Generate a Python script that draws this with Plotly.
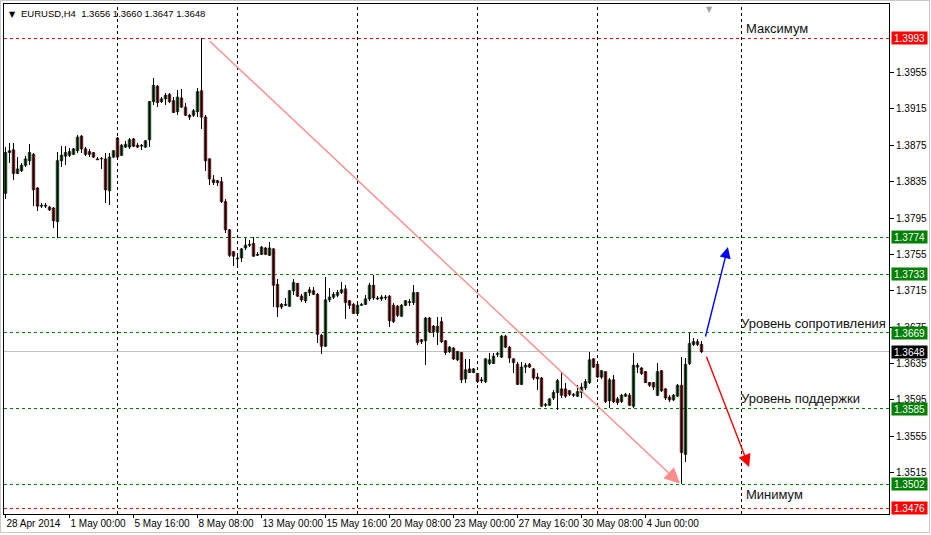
import plotly.graph_objects as go

# ---------------- data (EURUSD, H4) ----------------
opens = [
    1.3822, 1.3867, 1.3870, 1.3844, 1.3847, 1.3853, 1.3858, 1.3865, 1.3828, 1.3808,
    1.3809, 1.3807, 1.3806, 1.3791, 1.3858, 1.3863, 1.3864, 1.3865, 1.3869, 1.3885,
    1.3871, 1.3868, 1.3867, 1.3860, 1.3860, 1.3860, 1.3825, 1.3862, 1.3883, 1.3864,
    1.3873, 1.3873, 1.3882, 1.3875, 1.3874, 1.3873, 1.3881, 1.3923, 1.3940, 1.3923,
    1.3926, 1.3931, 1.3924, 1.3912, 1.3927, 1.3917, 1.3908, 1.3908, 1.3912, 1.3935,
    1.3906, 1.3860, 1.3837, 1.3836, 1.3835, 1.3813, 1.3782, 1.3758, 1.3751, 1.3751,
    1.3762, 1.3765, 1.3767, 1.3755, 1.3755, 1.3762, 1.3754, 1.3761, 1.3722, 1.3697,
    1.3699, 1.3698, 1.3715, 1.3723, 1.3709, 1.3704, 1.3713, 1.3715, 1.3711, 1.3666,
    1.3654, 1.3705, 1.3708, 1.3710, 1.3713, 1.3717, 1.3704, 1.3700, 1.3690, 1.3699,
    1.3700, 1.3706, 1.3721, 1.3707, 1.3706, 1.3707, 1.3709, 1.3699, 1.3698, 1.3687,
    1.3699, 1.3702, 1.3702, 1.3713, 1.3661, 1.3660, 1.3685, 1.3676, 1.3670, 1.3681,
    1.3660, 1.3648, 1.3652, 1.3639, 1.3647, 1.3618, 1.3629, 1.3625, 1.3624, 1.3617,
    1.3615, 1.3635, 1.3635, 1.3645, 1.3642, 1.3665, 1.3653, 1.3640, 1.3634, 1.3612,
    1.3631, 1.3634, 1.3629, 1.3620, 1.3619, 1.3589, 1.3589, 1.3597, 1.3603, 1.3607,
    1.3607, 1.3605, 1.3601, 1.3599, 1.3603, 1.3608, 1.3614, 1.3640, 1.3634, 1.3620,
    1.3626, 1.3594, 1.3617, 1.3596, 1.3593, 1.3599, 1.3600, 1.3588, 1.3633, 1.3630,
    1.3626, 1.3614, 1.3614, 1.3600, 1.3627, 1.3607, 1.3598, 1.3595, 1.3599, 1.3611,
    1.3535, 1.3635, 1.3656, 1.3659, 1.3656,
]
highs = [
    1.3873, 1.3878, 1.3878, 1.3862, 1.3856, 1.3863, 1.3876, 1.3867, 1.3829, 1.3811,
    1.3812, 1.3808, 1.3807, 1.3868, 1.3874, 1.3874, 1.3872, 1.3872, 1.3886, 1.3886,
    1.3873, 1.3871, 1.3868, 1.3862, 1.3862, 1.3867, 1.3867, 1.3870, 1.3884, 1.3876,
    1.3880, 1.3883, 1.3883, 1.3878, 1.3876, 1.3881, 1.3924, 1.3949, 1.3941, 1.3928,
    1.3932, 1.3932, 1.3928, 1.3936, 1.3937, 1.3921, 1.3909, 1.3915, 1.3938, 1.3993,
    1.3908, 1.3861, 1.3842, 1.3837, 1.3840, 1.3816, 1.3783, 1.3759, 1.3754, 1.3762,
    1.3773, 1.3771, 1.3774, 1.3758, 1.3764, 1.3763, 1.3769, 1.3762, 1.3728, 1.3701,
    1.3707, 1.3716, 1.3728, 1.3724, 1.3711, 1.3714, 1.3719, 1.3719, 1.3712, 1.3667,
    1.3730, 1.3718, 1.3714, 1.3716, 1.3725, 1.3721, 1.3705, 1.3702, 1.3702, 1.3702,
    1.3710, 1.3723, 1.3732, 1.3709, 1.3710, 1.3710, 1.3710, 1.3702, 1.3699, 1.3700,
    1.3705, 1.3706, 1.3721, 1.3714, 1.3662, 1.3686, 1.3686, 1.3677, 1.3686, 1.3686,
    1.3661, 1.3654, 1.3653, 1.3649, 1.3648, 1.3640, 1.3640, 1.3630, 1.3625, 1.3620,
    1.3641, 1.3647, 1.3647, 1.3648, 1.3666, 1.3666, 1.3654, 1.3641, 1.3637, 1.3637,
    1.3636, 1.3636, 1.3630, 1.3625, 1.3620, 1.3591, 1.3597, 1.3606, 1.3618, 1.3625,
    1.3614, 1.3606, 1.3602, 1.3611, 1.3614, 1.3618, 1.3648, 1.3641, 1.3636, 1.3628,
    1.3626, 1.3619, 1.3622, 1.3598, 1.3601, 1.3602, 1.3602, 1.3646, 1.3636, 1.3631,
    1.3627, 1.3615, 1.3615, 1.3636, 1.3628, 1.3608, 1.3600, 1.3601, 1.3612, 1.3642,
    1.3641, 1.3669, 1.3663, 1.3662, 1.3660,
]
lows = [
    1.3816, 1.3856, 1.3837, 1.3843, 1.3846, 1.3851, 1.3853, 1.3808, 1.3803, 1.3806,
    1.3806, 1.3803, 1.3784, 1.3773, 1.3851, 1.3853, 1.3862, 1.3864, 1.3867, 1.3867,
    1.3863, 1.3862, 1.3861, 1.3859, 1.3849, 1.3812, 1.3809, 1.3861, 1.3861, 1.3863,
    1.3872, 1.3871, 1.3873, 1.3872, 1.3870, 1.3872, 1.3873, 1.3919, 1.3917, 1.3922,
    1.3919, 1.3922, 1.3910, 1.3908, 1.3916, 1.3907, 1.3903, 1.3906, 1.3906, 1.3893,
    1.3847, 1.3831, 1.3831, 1.3830, 1.3812, 1.3779, 1.3752, 1.3742, 1.3743, 1.3747,
    1.3760, 1.3763, 1.3752, 1.3753, 1.3754, 1.3754, 1.3753, 1.3697, 1.3686, 1.3695,
    1.3698, 1.3697, 1.3710, 1.3708, 1.3703, 1.3702, 1.3709, 1.3710, 1.3658, 1.3645,
    1.3653, 1.3703, 1.3706, 1.3708, 1.3711, 1.3684, 1.3695, 1.3689, 1.3689, 1.3698,
    1.3699, 1.3704, 1.3705, 1.3705, 1.3704, 1.3705, 1.3675, 1.3680, 1.3686, 1.3686,
    1.3698, 1.3698, 1.3699, 1.3655, 1.3656, 1.3633, 1.3669, 1.3664, 1.3655, 1.3658,
    1.3644, 1.3647, 1.3639, 1.3638, 1.3614, 1.3614, 1.3624, 1.3624, 1.3613, 1.3613,
    1.3614, 1.3633, 1.3634, 1.3642, 1.3641, 1.3652, 1.3636, 1.3625, 1.3611, 1.3611,
    1.3625, 1.3630, 1.3617, 1.3606, 1.3587, 1.3587, 1.3588, 1.3595, 1.3584, 1.3597,
    1.3597, 1.3599, 1.3598, 1.3598, 1.3597, 1.3606, 1.3612, 1.3630, 1.3619, 1.3618,
    1.3592, 1.3586, 1.3592, 1.3589, 1.3592, 1.3598, 1.3588, 1.3586, 1.3625, 1.3622,
    1.3614, 1.3609, 1.3606, 1.3599, 1.3604, 1.3595, 1.3593, 1.3594, 1.3598, 1.3502,
    1.3527, 1.3633, 1.3654, 1.3654, 1.3647,
]
closes = [
    1.3867, 1.3869, 1.3844, 1.3849, 1.3853, 1.3860, 1.3867, 1.3826, 1.3808, 1.3809,
    1.3808, 1.3804, 1.3792, 1.3858, 1.3864, 1.3867, 1.3868, 1.3871, 1.3884, 1.3871,
    1.3865, 1.3865, 1.3862, 1.3859, 1.3860, 1.3826, 1.3862, 1.3869, 1.3862, 1.3875,
    1.3876, 1.3881, 1.3874, 1.3873, 1.3875, 1.3880, 1.3923, 1.3941, 1.3922, 1.3926,
    1.3930, 1.3923, 1.3911, 1.3928, 1.3917, 1.3908, 1.3906, 1.3913, 1.3934, 1.3906,
    1.3858, 1.3838, 1.3834, 1.3834, 1.3813, 1.3782, 1.3754, 1.3753, 1.3750, 1.3761,
    1.3765, 1.3766, 1.3753, 1.3754, 1.3763, 1.3755, 1.3762, 1.3721, 1.3697, 1.3700,
    1.3700, 1.3715, 1.3724, 1.3709, 1.3705, 1.3713, 1.3716, 1.3711, 1.3667, 1.3654,
    1.3705, 1.3708, 1.3711, 1.3713, 1.3716, 1.3702, 1.3699, 1.3690, 1.3699, 1.3700,
    1.3706, 1.3721, 1.3707, 1.3706, 1.3708, 1.3708, 1.3682, 1.3681, 1.3688, 1.3699,
    1.3704, 1.3703, 1.3713, 1.3658, 1.3659, 1.3685, 1.3670, 1.3670, 1.3676, 1.3659,
    1.3647, 1.3653, 1.3640, 1.3648, 1.3617, 1.3628, 1.3625, 1.3629, 1.3615, 1.3616,
    1.3640, 1.3639, 1.3643, 1.3646, 1.3665, 1.3653, 1.3641, 1.3636, 1.3612, 1.3631,
    1.3633, 1.3631, 1.3619, 1.3618, 1.3588, 1.3590, 1.3596, 1.3603, 1.3616, 1.3600,
    1.3599, 1.3601, 1.3600, 1.3604, 1.3609, 1.3615, 1.3639, 1.3631, 1.3620, 1.3627,
    1.3593, 1.3617, 1.3593, 1.3592, 1.3600, 1.3601, 1.3589, 1.3633, 1.3631, 1.3624,
    1.3614, 1.3611, 1.3609, 1.3626, 1.3605, 1.3597, 1.3595, 1.3600, 1.3611, 1.3537,
    1.3634, 1.3657, 1.3659, 1.3656, 1.3648,
]

time_label_bars = [0, 16, 32, 48, 64, 80, 96, 112, 128, 144, 160]
time_labels = ["28 Apr 2014", "1 May 00:00", "5 May 16:00", "8 May 08:00", "13 May 00:00",
               "15 May 16:00", "20 May 08:00", "23 May 00:00", "27 May 16:00",
               "30 May 08:00", "4 Jun 00:00"]
week_separator_bars = [28, 58, 88, 118, 148]
price_ticks = [1.3515, 1.3555, 1.3595, 1.3635, 1.3675, 1.3715,
               1.3755, 1.3795, 1.3835, 1.3875, 1.3915, 1.3955]
extreme_levels = [1.3993, 1.3476]
sr_levels = [1.3774, 1.3733, 1.3669, 1.3585, 1.3502]
symbol = "EURUSD,H4"

bars = list(range(len(opens)))
bid = closes[-1]

FONT = "Liberation Sans"
BULL, BEAR = "#009000", "#ff0000"

# wicks (high-low segments) and bodies (open-close bars)
wick_x, wick_y = [], []
for b, h, l in zip(bars, highs, lows):
    wick_x += [b, b, None]
    wick_y += [l, h, None]
body_base = [min(o, c) for o, c in zip(opens, closes)]
body_len = [max(abs(c - o), 0.00003) for o, c in zip(opens, closes)]
body_col = [BULL if c >= o else BEAR for o, c in zip(opens, closes)]

fig = go.Figure()
fig.add_trace(go.Scatter(x=wick_x, y=wick_y, mode="lines",
                         line=dict(color="black", width=1),
                         hoverinfo="skip", showlegend=False))
fig.add_trace(go.Bar(x=bars, y=body_len, base=body_base, width=0.62,
                     marker=dict(color=body_col, line=dict(color="black", width=0.7)),
                     hoverinfo="skip", showlegend=False))

shapes = []
dash = "3px,3px"
for b in week_separator_bars + [184]:
    shapes.append(dict(type="line", xref="x", yref="paper", x0=b, x1=b, y0=0, y1=1,
                       line=dict(color="black", width=1, dash=dash), layer="below"))
for p in extreme_levels:
    shapes.append(dict(type="line", xref="paper", yref="y", x0=0, x1=1, y0=p, y1=p,
                       line=dict(color="#ff0000", width=1, dash=dash), layer="below"))
for p in sr_levels:
    shapes.append(dict(type="line", xref="paper", yref="y", x0=0, x1=1, y0=p, y1=p,
                       line=dict(color="#008000", width=1, dash=dash), layer="below"))
shapes.append(dict(type="line", xref="paper", yref="y", x0=0, x1=1, y0=bid, y1=bid,
                   line=dict(color="#c0c0c0", width=1), layer="below"))

# window frame (light grey)
W, H = 931, 535
ml, mr, mt, mb = 4, 42, 4, 21
pw, ph = W - ml - mr, H - mt - mb
def px(xp):
    return (xp - ml) / pw
def py(yp):
    return (H - mb - yp) / ph
shapes.append(dict(type="rect", xref="paper", yref="paper",
                   x0=px(0.5), x1=px(929.5), y0=py(532.5), y1=py(0.5),
                   line=dict(color="#c8c8c8", width=1.5), layer="below"))

annotations = []
box = dict(xref="paper", x=1, xanchor="left", xshift=2, yref="y", showarrow=False,
           width=35, height=12, borderpad=0)
for p in extreme_levels:
    annotations.append(dict(box, y=p, text=f"{p:.4f}", bgcolor="#ff0000",
                            font=dict(family=FONT, size=10, color="white")))
for p in sr_levels:
    annotations.append(dict(box, y=p, text=f"{p:.4f}", bgcolor="#008000",
                            font=dict(family=FONT, size=10, color="white")))
annotations.append(dict(box, y=bid, text=f"{bid:.4f}", bgcolor="black",
                        font=dict(family=FONT, size=10, color="white")))

# header
annotations.append(dict(xref="paper", yref="paper", x=0, y=1, xanchor="left", yanchor="top",
                        xshift=3, yshift=-4, showarrow=False, text="▼",
                        font=dict(family="DejaVu Sans", size=8, color="black")))
annotations.append(dict(xref="paper", yref="paper", x=0, y=1, xanchor="left", yanchor="top",
                        xshift=15, yshift=-2, showarrow=False,
                        text=f"{symbol}  {opens[-1]:.4f} {highs[-1]:.4f} {lows[-1]:.4f} {closes[-1]:.4f}",
                        font=dict(family=FONT, size=9.5, color="black")))
# chart shift marker
annotations.append(dict(xref="x", yref="paper", x=176, y=1, xanchor="center", yanchor="top",
                        yshift=1, showarrow=False, text="▼",
                        font=dict(family="DejaVu Sans", size=8, color="#a0a0a0")))

# level texts
text_font = dict(family=FONT, size=13, color="#111111")
annotations += [
    dict(x=184.6, y=1.4003, text="Максимум", xanchor="left", yanchor="middle", showarrow=False, font=text_font),
    dict(x=183.4, y=1.36795, text="Уровень сопротивления", xanchor="left", yanchor="middle", showarrow=False, font=text_font),
    dict(x=183.4, y=1.3596, text="Уровень поддержки", xanchor="left", yanchor="middle", showarrow=False, font=text_font),
    dict(x=184.6, y=1.3491, text="Минимум", xanchor="left", yanchor="middle", showarrow=False, font=text_font),
]

# trend line and forecast arrows
annotations += [
    dict(x=168.6, y=1.3503, ax=50.7, ay=1.3991, axref="x", ayref="y", xref="x", yref="y",
         text="", showarrow=True, arrowhead=2, arrowsize=2.2, arrowwidth=1.4, arrowcolor="#ff8c8c"),
    dict(x=180.6, y=1.3763, ax=174.9, ay=1.3663, axref="x", ayref="y", xref="x", yref="y",
         text="", showarrow=True, arrowhead=2, arrowsize=1.6, arrowwidth=1.4, arrowcolor="#0000ff"),
    dict(x=185.9, y=1.3521, ax=175.1, ay=1.3644, axref="x", ayref="y", xref="x", yref="y",
         text="", showarrow=True, arrowhead=2, arrowsize=1.8, arrowwidth=1.4, arrowcolor="#ff0000"),
]

fig.update_layout(
    width=W, height=H,
    margin=dict(l=ml, r=mr, t=mt, b=mb, autoexpand=False),
    paper_bgcolor="white", plot_bgcolor="white",
    shapes=shapes, annotations=annotations,
    showlegend=False, barmode="overlay",
    xaxis=dict(range=[-0.375, 220.875], automargin=False,
               showgrid=False, zeroline=False, showline=True, mirror=True,
               linecolor="black", linewidth=1,
               ticks="outside", ticklen=3, tickcolor="black", tickangle=0,
               tickvals=time_label_bars, ticktext=time_labels,
               ticklabelposition="outside right",
               tickfont=dict(family=FONT, size=10, color="black"), fixedrange=True),
    yaxis=dict(range=[1.34694, 1.40304], side="right", automargin=False,
               showgrid=False, zeroline=False, showline=True, mirror=True,
               linecolor="black", linewidth=1,
               ticks="outside", ticklen=4, tickcolor="black",
               tickvals=price_ticks, tickformat=".4f",
               tickfont=dict(family=FONT, size=10, color="black"), fixedrange=True),
)

fig.write_html(
    "out.html",
    config={"displayModeBar": False},
    post_script=(
        "document.body.style.margin='0';document.body.style.padding='0';"
        "document.body.style.overflow='hidden';"
        "document.querySelectorAll('.scatterlayer path, .layer-below path').forEach(p => p.setAttribute('shape-rendering','crispEdges'));"
    ),
)
